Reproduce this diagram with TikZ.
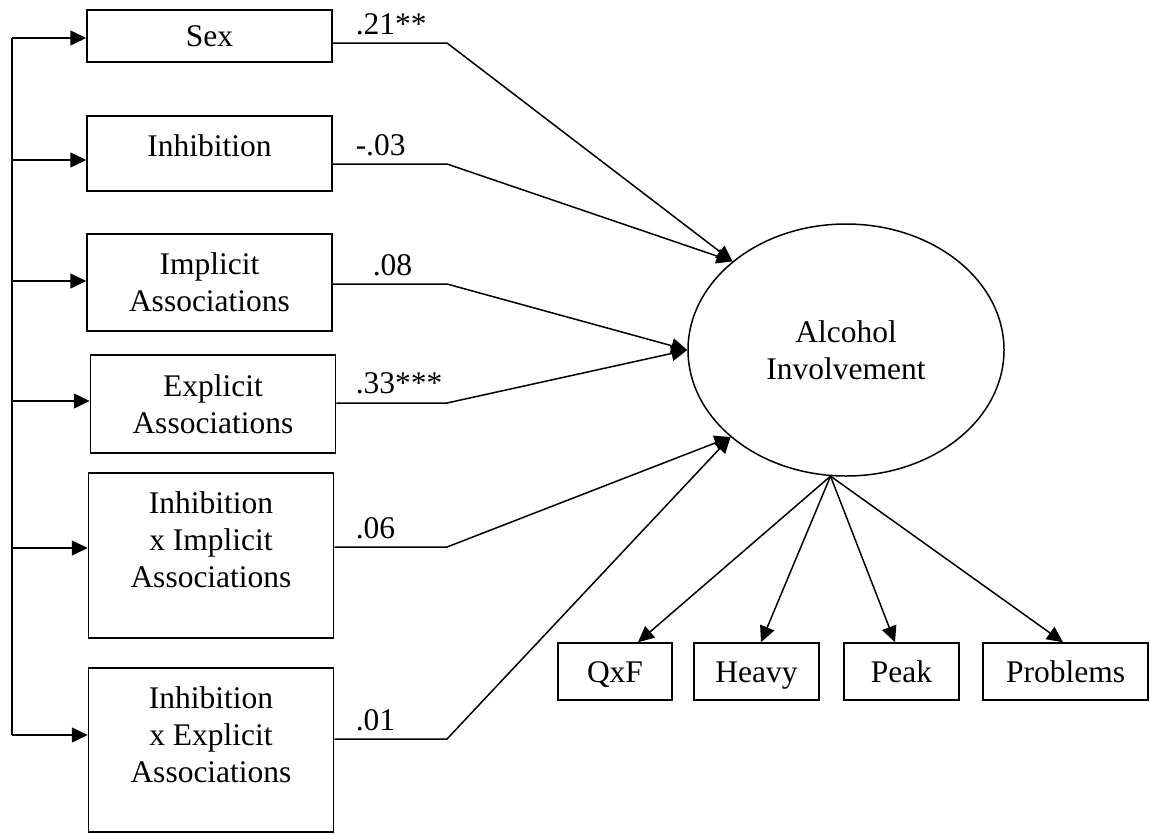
\documentclass[tikz,border=0pt]{standalone}
\usepackage{fontspec}
\setmainfont{Liberation Serif}
\usetikzlibrary{shapes.geometric,arrows.meta}

\begin{document}
\begin{tikzpicture}[x=1pt, y=-1pt, line width=1.5pt,
  every node/.style={font=\fontsize{31.5}{37}\selectfont},
  var/.style={draw, minimum width=245pt, align=center, inner sep=0pt},
  ind/.style={draw, minimum height=57pt, inner sep=0pt, text height=22pt, text depth=0pt},
  coef/.style={anchor=base west, inner sep=0pt},
  arr/.style={-{Triangle[length=16pt,width=15pt]}}]
\useasboundingbox (0,0) rectangle (1150,833);

\node[var, minimum height=52pt] (sex) at (209.5,36) {Sex};
\node[var, minimum height=75pt] (inh) at (209.5,153.5) {Inhibition\\[-22pt]\mbox{}};
\node[var, minimum height=97pt] (imp) at (209.5,282.5) {Implicit\\Associations};
\node[var, minimum height=98pt] (exp) at (213,404) {Explicit\\Associations};
\node[var, minimum height=165pt] (inhimp) at (211,555.5) {Inhibition\\x Implicit\\Associations\\[-6pt]\mbox{}};
\node[var, minimum height=164pt] (inhexp) at (211,750) {Inhibition\\x Explicit\\Associations\\[-6pt]\mbox{}};

\node[draw, ellipse, minimum width=316pt, minimum height=252pt, inner sep=0pt, align=center] (ai) at (846,350) {Alcohol\\Involvement};

\node[ind, minimum width=114pt] (qxf) at (615,671.5) {QxF};
\node[ind, minimum width=125pt] (heavy) at (756.5,671.5) {Heavy};
\node[ind, minimum width=115pt] (peak) at (901.5,671.5) {Peak};
\node[ind, minimum width=165pt] (prob) at (1065.5,671.5) {Problems};

\node[coef] (c1) at (355,34) {.21**};
\node[coef] (c2) at (355,155) {-.03};
\node[coef] (c3) at (372,275) {.08};
\node[coef] (c4) at (355,393) {.33***};
\node[coef] (c5) at (355,538) {.06};
\node[coef] (c6) at (355,730) {.01};

\coordinate (top) at (12,38);
\coordinate (bot) at (12,735);
\draw (top) -- (bot);
\foreach \n/\y in {sex/38, inh/160, imp/281, exp/401, inhimp/548, inhexp/735} {
  \coordinate (t\n) at (12,\y);
  \draw[arr] (t\n) -- (t\n -| \n.west);
}

\coordinate (k1) at (447,43);
\coordinate (k2) at (447,164);
\coordinate (k3) at (447,284);
\coordinate (k4) at (447,403);
\coordinate (k5) at (447,547);
\coordinate (k6) at (447,739);
\draw[arr] (k1 -| sex.east) -- (k1) -- (ai.142.6);
\draw[arr] (k2 -| inh.east) -- (k2) -- (ai.142.6);
\draw[arr] (k3 -| imp.east) -- (k3) -- (ai.180);
\draw[arr] (k4 -| exp.east) -- (k4) -- (ai.180);
\draw[arr] (k5 -| inhimp.east) -- (k5) -- (ai.217.4);
\draw[arr] (k6 -| inhexp.east) -- (k6) -- (ai.217.4);

\draw[arr] (ai.263) -- ([xshift=23pt]qxf.north);
\draw[arr] (ai.263) -- ([xshift=4.5pt]heavy.north);
\draw[arr] (ai.263) -- ([xshift=-6.5pt]peak.north);
\draw[arr] (ai.263) -- ([xshift=-2.5pt]prob.north);
\end{tikzpicture}
\end{document}
